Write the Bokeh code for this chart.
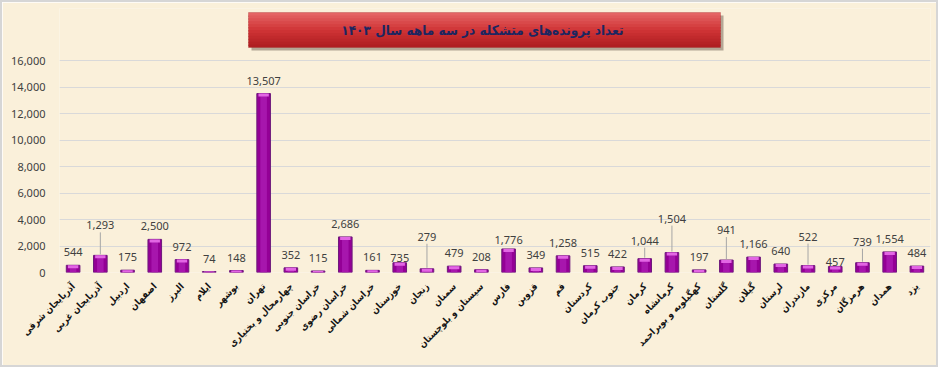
import numpy as np
from bokeh.plotting import figure
from bokeh.models import (ColumnDataSource, FactorRange, Range1d, FixedTicker,
                          NumeralTickFormatter, BoxAnnotation, Label)
from bokeh.core.properties import value
from bokeh.embed import file_html
from bokeh.resources import INLINE

# ---------------- data ----------------
provinces = [
    "آذربایجان شرقی", "آذربایجان غربی", "اردبیل", "اصفهان", "البرز", "ایلام",
    "بوشهر", "تهران", "چهارمحال و بختیاری", "خراسان جنوبی", "خراسان رضوی",
    "خراسان شمالی", "خوزستان", "زنجان", "سمنان", "سیستان و بلوچستان", "فارس",
    "قزوین", "قم", "کردستان", "جنوب کرمان", "کرمان", "کرمانشاه",
    "کهگیلویه و بویراحمد", "گلستان", "گیلان", "لرستان", "مازندران", "مرکزی",
    "هرمزگان", "همدان", "یزد",
]
cases = [
    544, 1293, 175, 2500, 972, 74,
    148, 13507, 352, 115, 2686,
    161, 735, 279, 479, 208, 1776,
    349, 1258, 515, 422, 1044, 1504,
    197, 941, 1166, 640, 522, 457,
    739, 1554, 484,
]
y_ticks = [0, 2000, 4000, 6000, 8000, 10000, 12000, 14000, 16000]
title_text = "تعداد پرونده‌های متشکله در سه  ماهه سال ۱۴۰۳"

# label placement style (extra lift in pixels for labels drawn with leader lines)
label_lift = {
    "آذربایجان غربی": 17, "زنجان": 19, "کرمانشاه": 21, "گلستان": 17,
    "مازندران": 16, "هرمزگان": 8, "کرمان": 5,
    "مرکزی": -9, "خوزستان": -8, "فارس": -4,
}

# ---------------- layout ----------------
W, H = 938, 367
ML, MR, MT, MB = 57, 10, 6, 97
frame_h = H - MT - MB          # 264 px, includes room for the title banner
grid_px = 212                  # pixel height of the 0..16000 grid
y_max = y_ticks[-1]
upp = y_max / grid_px          # data units per pixel
y_end = upp * frame_h

BG = "#FAF0DA"
p = figure(width=W, height=H, x_range=FactorRange(*provinces, range_padding=0),
           y_range=Range1d(0, y_end), output_backend="svg", toolbar_location=None,
           min_border_left=ML, min_border_right=MR, min_border_top=MT,
           min_border_bottom=MB, background_fill_color=BG, border_fill_color=BG,
           outline_line_color=None)
p.styles = {"border": "2px solid #D6D6D6"}

vals = np.array(cases, dtype=float)
base_lift = 13
lifts = np.array([base_lift + label_lift.get(c, 0) for c in provinces], dtype=float)
src = ColumnDataSource(dict(
    x=provinces, top=vals,
    cap_bottom=np.maximum(vals - 3 * upp, 0),
    lbl=[f"{v:,}" for v in cases],
    yoff=-lifts,
))

p.xgrid.grid_line_color = None
p.ygrid.grid_line_color = "#D9D9D9"
p.ygrid.grid_line_width = 1

# bars
p.vbar(x="x", top="top", bottom=0, width=0.5, source=src,
       fill_color="#940096", line_color="#6E1A7C", line_width=1)
p.vbar(x="x", top="top", bottom=0, width=0.24, source=src,
       fill_color="#A716AD", line_color=None)
p.vbar(x="x", top="top", bottom="cap_bottom", width=0.38, source=src,
       fill_color="#E266E4", line_color=None)

# leader lines
lead = [i for i, c in enumerate(provinces) if label_lift.get(c, 0) >= 5]
p.segment(x0=[provinces[i] for i in lead], y0=[vals[i] + upp for i in lead],
          x1=[provinces[i] for i in lead],
          y1=[vals[i] + (lifts[i] - 7) * upp for i in lead],
          line_color="#A6A6A6", line_width=1)

# value labels
p.text(x="x", y="top", text="lbl", y_offset="yoff", source=src,
       text_align="center", text_baseline="middle",
       text_font=value("Noto Sans"), text_font_size="11px", text_color="#404040")

# axes
p.yaxis.ticker = FixedTicker(ticks=y_ticks)
p.yaxis.formatter = NumeralTickFormatter(format="0,0")
p.yaxis.axis_line_color = None
p.yaxis.major_tick_line_color = None
p.yaxis.minor_tick_line_color = None
p.yaxis.major_label_standoff = 8
p.yaxis.major_label_text_font = "Noto Sans"
p.yaxis.major_label_text_font_size = "11px"
p.yaxis.major_label_text_color = "#404040"

p.xaxis.axis_line_color = None
p.xaxis.major_tick_line_color = None
p.xaxis.minor_tick_line_color = None
p.xaxis.major_label_orientation = np.pi / 4
p.xaxis.major_label_standoff = 6
p.xaxis.major_label_text_font = "DejaVu Sans Condensed"
p.xaxis.major_label_text_font_style = "bold"
p.xaxis.major_label_text_font_size = "9.5px"
p.xaxis.major_label_text_color = "#141414"

# title banner (screen units, relative to frame bottom-left)
box_l, box_r, box_t, box_b = 189, 661, 260, 225
p.add_layout(BoxAnnotation(left=box_l + 3, right=box_r + 3, top=box_t - 3, bottom=box_b - 3,
                           left_units="screen", right_units="screen",
                           top_units="screen", bottom_units="screen",
                           fill_color="#6E5E50", fill_alpha=0.5, line_color=None,
                           level="overlay"))
bands = 12
top_rgb = np.array([228, 100, 100])
mid_rgb = np.array([208, 52, 54])
bot_rgb = np.array([176, 30, 34])
step = (box_t - box_b) / bands
for k in range(bands):
    f = k / (bands - 1)
    if f < 0.5:
        c = top_rgb + (mid_rgb - top_rgb) * (f / 0.5)
    else:
        c = mid_rgb + (bot_rgb - mid_rgb) * ((f - 0.5) / 0.5)
    col = "#%02x%02x%02x" % tuple(int(v) for v in c)
    bottom = box_t - (k + 1) * step
    if k < bands - 1:
        bottom -= 1.5
    p.add_layout(BoxAnnotation(left=box_l, right=box_r, top=box_t - k * step,
                               bottom=bottom,
                               left_units="screen", right_units="screen",
                               top_units="screen", bottom_units="screen",
                               fill_color=col, fill_alpha=1.0, line_color=None,
                               level="overlay"))
p.add_layout(BoxAnnotation(left=box_l, right=box_r, top=box_t, bottom=box_b,
                           left_units="screen", right_units="screen",
                           top_units="screen", bottom_units="screen",
                           fill_color=None, line_color="#A02424",
                           line_width=1, level="overlay"))
p.add_layout(Label(x=(box_l + box_r) / 2, y=(box_t + box_b) / 2, x_units="screen",
                   y_units="screen", text=title_text, text_align="center",
                   text_baseline="middle", text_font="DejaVu Sans Condensed",
                   text_font_style="bold", text_font_size="13.5px",
                   text_color="#1C2660", level="overlay"))

open("out.html", "w").write(file_html(p, INLINE))
